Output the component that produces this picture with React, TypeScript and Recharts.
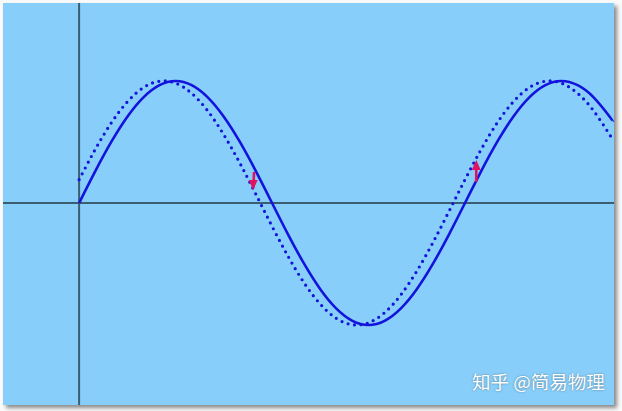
import React from "react";
import { ComposedChart, Line, Scatter, XAxis, YAxis, ReferenceLine } from "recharts";

// phase positions (degrees of the solid wave)
const phases = [0, 15, 30, 45, 60, 75, 90, 105, 120, 135, 150, 165, 180, 195, 210, 225, 240, 255, 270, 285, 300, 315, 330, 345, 360, 375, 390, 405, 420, 435, 450, 465, 480, 495, 498];
const solidValues = [0, 0.259, 0.5, 0.707, 0.866, 0.966, 1, 0.966, 0.866, 0.707, 0.5, 0.259, 0, -0.259, -0.5, -0.707, -0.866, -0.966, -1, -0.966, -0.866, -0.707, -0.5, -0.259, 0, 0.259, 0.5, 0.707, 0.866, 0.966, 1, 0.966, 0.866, 0.707, 0.669];
const dottedValues = [0.191, 0.438, 0.656, 0.829, 0.946, 0.998, 0.982, 0.899, 0.755, 0.559, 0.326, 0.07, -0.191, -0.438, -0.656, -0.829, -0.946, -0.998, -0.982, -0.899, -0.755, -0.559, -0.326, -0.07, 0.191, 0.438, 0.656, 0.829, 0.946, 0.998, 0.982, 0.899, 0.755, 0.559, 0.515];

// arrows: shaft start, shaft end, tip
const arrowDownX = [163.2, 162.6];
const arrowDownY = [0.254, 0.125];
const arrowDownTip = { x: 162.4, y: 0.107, dir: "down" };
const arrowUpX = [370.5, 370.5];
const arrowUpY = [0.172, 0.32];
const arrowUpTip = { x: 370.5, y: 0.352, dir: "up" };

const xDomain = [-71, 499];
const yDomain = [-1.656, 1.639];

const solidData = phases.map((x, i) => ({ x, y: solidValues[i] }));
const dottedData = phases.map((x, i) => ({ x, y: dottedValues[i] }));
const arrowDownData = arrowDownX.map((x, i) => ({ x, y: arrowDownY[i] }));
const arrowUpData = arrowUpX.map((x, i) => ({ x, y: arrowUpY[i] }));
const tipData = [arrowDownTip, arrowUpTip];

const WAVE = "#1313dd";
const ARROW = "#e0135e";
const AXIS = "#3b5d72";

const ArrowHead = (props: any) => {
  const { cx, cy, payload } = props;
  if (cx == null || cy == null) return null;
  const d = payload.dir === "down" ? -1 : 1;
  const pts = `${cx},${cy} ${cx - 4.5},${cy + d * 10} ${cx + 4.5},${cy + d * 10}`;
  return <polygon points={pts} fill={ARROW} />;
};

export default function App() {
  return (
    <div style={{ position: "absolute", left: 0, top: 0, width: 622, height: 411, background: "#fafafa" }}>
      <div
        style={{
          position: "absolute",
          left: 3,
          top: 3,
          width: 611,
          height: 402,
          background: "#87cefa",
          boxShadow: "3px 3px 4px rgba(0,0,0,0.45)",
        }}
      >
        <ComposedChart width={611} height={402} margin={{ top: 0, right: 0, bottom: 0, left: 0 }}>
          <XAxis type="number" dataKey="x" domain={xDomain} hide allowDataOverflow />
          <YAxis type="number" domain={yDomain} hide allowDataOverflow />
          <ReferenceLine x={0} stroke={AXIS} strokeWidth={2} />
          <ReferenceLine y={0} stroke={AXIS} strokeWidth={2} />
          <Line
            data={dottedData}
            dataKey="y"
            type="natural"
            stroke={WAVE}
            strokeWidth={3.2}
            strokeDasharray="0 6.5"
            strokeLinecap="round"
            dot={false}
            isAnimationActive={false}
          />
          <Line
            data={solidData}
            dataKey="y"
            type="natural"
            stroke={WAVE}
            strokeWidth={2.6}
            dot={false}
            isAnimationActive={false}
          />
          <Line data={arrowDownData} dataKey="y" stroke={ARROW} strokeWidth={2.6} dot={false} isAnimationActive={false} />
          <Line data={arrowUpData} dataKey="y" stroke={ARROW} strokeWidth={2.6} dot={false} isAnimationActive={false} />
          <Scatter data={tipData} dataKey="y" shape={<ArrowHead />} isAnimationActive={false} />
        </ComposedChart>
      </div>
      <div
        style={{
          position: "absolute",
          left: 472,
          top: 370,
          fontFamily: "'Noto Sans CJK SC', sans-serif",
          fontSize: 18.5,
          lineHeight: "22px",
          color: "#ffffff",
          textShadow: "0 0 2px rgba(0,0,0,0.45)",
          whiteSpace: "nowrap",
        }}
      >
        知乎 @简易物理
      </div>
    </div>
  );
}
